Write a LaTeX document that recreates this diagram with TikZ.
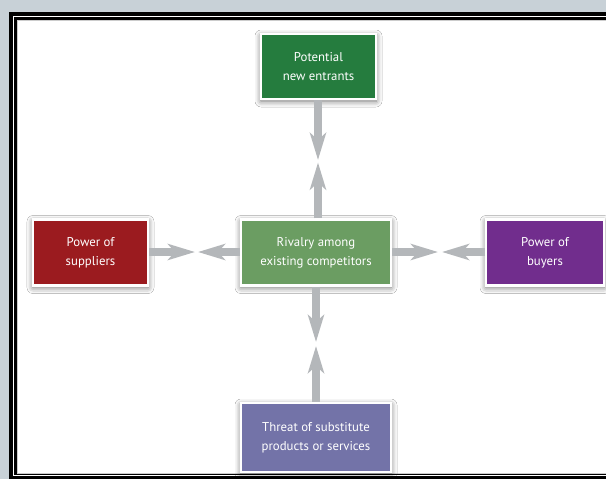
\documentclass[tikz,border=0pt]{standalone}
\usepackage{fontspec}
\setmainfont{PT Sans}
\usetikzlibrary{arrows.meta,shadows.blur}
\definecolor{bgc}{HTML}{C8D1D7}
\definecolor{cgreen}{HTML}{257C3E}
\definecolor{cred}{HTML}{9B1B1F}
\definecolor{crival}{HTML}{6B9D62}
\definecolor{cpurple}{HTML}{712D8D}
\definecolor{cthreat}{HTML}{7373A8}
\definecolor{arrc}{HTML}{B4B7BA}
\tikzset{
  forcebox/.style={draw=white, line width=2.5pt, text=white, align=center,
    font=\fontsize{12.8}{19}\selectfont, inner sep=0pt,
    blur shadow={shadow xshift=0pt, shadow yshift=-2pt, shadow blur radius=6pt, shadow opacity=60}},
  forcearrow/.style={draw=arrc, line width=8pt, -{Stealth[length=27pt,width=16pt,inset=7pt]}}
}
\begin{document}
\begin{tikzpicture}[x=1pt,y=-1pt]
\useasboundingbox (0,0) rectangle (606,479);
\fill[bgc] (0,0) rectangle (606,479);
\fill[black] (9,12) rectangle (615,480);
\draw[white, line width=1pt] (13.5,16.5) rectangle (615,475.5);
\fill[white] (17,20) rectangle (615,473);
\draw[gray!40, line width=0.8pt] (17,20) rectangle (615,473);

\node[forcebox, fill=cgreen, minimum width=115pt, minimum height=65pt] (entr) at (318.5,66.5) {Potential\\new entrants};
\node[forcebox, fill=cred, minimum width=115pt, minimum height=66pt] (supp) at (90.5,252.5) {Power of\\suppliers};
\node[forcebox, fill=crival, minimum width=150pt, minimum height=66pt] (riv) at (316,252.5) {Rivalry among\\existing competitors};
\node[forcebox, fill=cpurple, minimum width=118pt, minimum height=66pt] (buy) at (545,252.5) {Power of\\buyers};
\node[forcebox, fill=cthreat, minimum width=150pt, minimum height=69pt] (thr) at (316,437.5) {Threat of substitute\\products or services};

\coordinate (t1) at (318,160);
\coordinate (t2) at (318,162.5);
\coordinate (l1) at (195,252);
\coordinate (l2) at (198,252);
\coordinate (r1) at (438,252);
\coordinate (r2) at (442,252);
\coordinate (b1) at (316,342);
\coordinate (b2) at (316,346);

\draw[forcearrow] (entr.south -| t1) -- (t1);
\draw[forcearrow] (riv.north -| t2) -- (t2);
\draw[forcearrow] (supp.east |- l1) -- (l1);
\draw[forcearrow] (riv.west |- l2) -- (l2);
\draw[forcearrow] (riv.east |- r1) -- (r1);
\draw[forcearrow] (buy.west |- r2) -- (r2);
\draw[forcearrow] (riv.south -| b1) -- (b1);
\draw[forcearrow] (thr.north -| b2) -- (b2);
\end{tikzpicture}
\end{document}
